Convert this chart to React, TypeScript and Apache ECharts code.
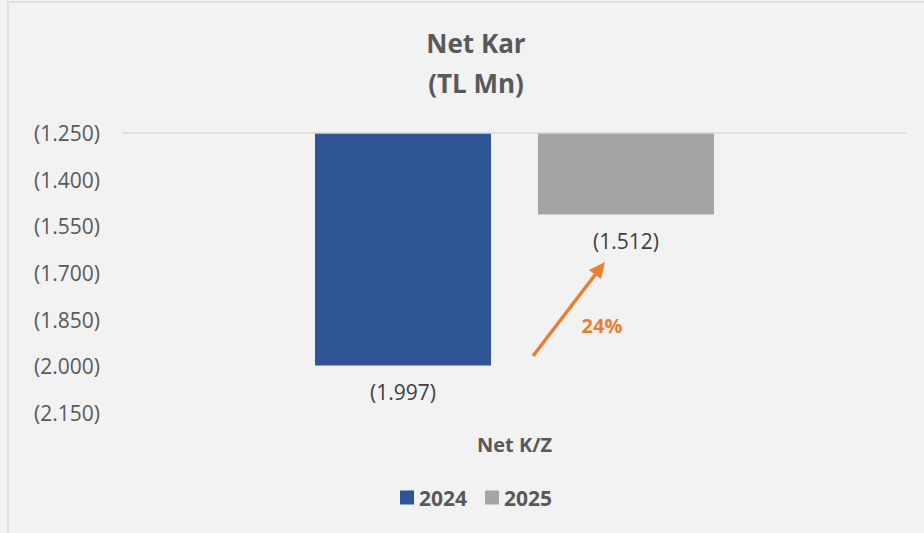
import React, { useEffect, useRef } from "react";
import * as echarts from "echarts";

const categories = ["Net K/Z"];
const seriesNames = ["2024", "2025"];
const values2024 = [-1997];
const values2025 = [-1512];
const yTicks = [-2150, -2000, -1850, -1700, -1550, -1400, -1250];
const changeLabel = "24%";

const FONT = "'Open Sans', sans-serif";

function fmt(v: number): string {
  const s = Math.round(Math.abs(v)).toString().replace(/\B(?=(\d{3})+(?!\d))/g, ".");
  return v < 0 ? "(" + s + ")" : s;
}

export default function App() {
  const ref = useRef<HTMLDivElement>(null);
  useEffect(() => {
    if (!ref.current) return;
    const chart = echarts.init(ref.current, undefined, { renderer: "svg" });
    chart.setOption({
      animation: false,
      backgroundColor: "#F2F2F2",
      textStyle: { fontFamily: FONT },
      title: {
        text: "Net Kar\n(TL Mn)",
        left: 471,
        top: 18,
        textAlign: "center",
        textStyle: {
          fontFamily: FONT,
          fontSize: 26,
          fontWeight: "bold",
          color: "#595959",
          lineHeight: 40,
        },
      },
      legend: {
        data: seriesNames,
        left: 400,
        top: 487,
        padding: 0,
        icon: "rect",
        itemWidth: 14,
        itemHeight: 14,
        itemGap: 18,
        textStyle: { fontFamily: FONT, fontSize: 21, fontWeight: "bold", color: "#595959" },
      },
      grid: { left: 123, right: 18, top: 133, bottom: 120, containLabel: false },
      xAxis: {
        type: "category",
        data: categories,
        axisLine: { show: false },
        axisTick: { show: false },
        axisLabel: {
          margin: 21,
          fontFamily: FONT,
          fontSize: 20,
          fontWeight: "bold",
          color: "#595959",
        },
      },
      yAxis: {
        type: "value",
        min: -2150,
        max: -1250,
        axisLine: { show: false },
        axisTick: { show: false },
        splitLine: { show: false },
        axisLabel: {
          customValues: yTicks,
          margin: 23,
          fontFamily: FONT,
          fontSize: 21,
          color: "#595959",
          formatter: (v: number) => fmt(v),
        },
      },
      series: [
        {
          name: seriesNames[0],
          type: "bar",
          data: values2024,
          barWidth: 176,
          barGap: "26.7%",
          clip: true,
          itemStyle: { color: "#2F5597" },
          label: {
            show: true,
            position: "outside",
            distance: 16,
            fontFamily: FONT,
            fontSize: 21,
            color: "#404040",
            formatter: (p: any) => fmt(p.value),
          },
          markLine: {
            silent: true,
            symbol: "none",
            label: { show: false },
            lineStyle: { color: "#D9D9D9", width: 1.5, type: "solid" },
            data: [{ yAxis: -1250 }],
          },
        },
        {
          name: seriesNames[1],
          type: "bar",
          data: values2025,
          barWidth: 176,
          clip: true,
          itemStyle: { color: "#A5A5A5" },
          label: {
            show: true,
            position: "outside",
            distance: 16,
            fontFamily: FONT,
            fontSize: 21,
            color: "#404040",
            formatter: (p: any) => fmt(p.value),
          },
        },
      ],
      graphic: [
        {
          type: "rect",
          silent: true,
          shape: { x: 8, y: 2, width: 940, height: 560 },
          style: { fill: "none", stroke: "#D9D9D9", lineWidth: 1.5 },
        },
        {
          type: "line",
          silent: true,
          shape: { x1: 533, y1: 356, x2: 598, y2: 271 },
          style: { stroke: "#ED7D31", lineWidth: 3.5 },
        },
        {
          type: "polygon",
          silent: true,
          shape: { points: [[605, 262], [589, 270], [601, 279]] },
          style: { fill: "#ED7D31" },
        },
        {
          type: "text",
          silent: true,
          x: 602,
          y: 325,
          style: {
            text: changeLabel,
            fill: "#ED7D31",
            font: "bold 20px 'Open Sans', sans-serif",
            textAlign: "center",
            textVerticalAlign: "middle",
          },
        },
      ],
    });
    return () => chart.dispose();
  }, []);
  return (
    <div
      ref={ref}
      style={{ position: "absolute", left: 0, top: 0, width: 924, height: 533 }}
    />
  );
}
